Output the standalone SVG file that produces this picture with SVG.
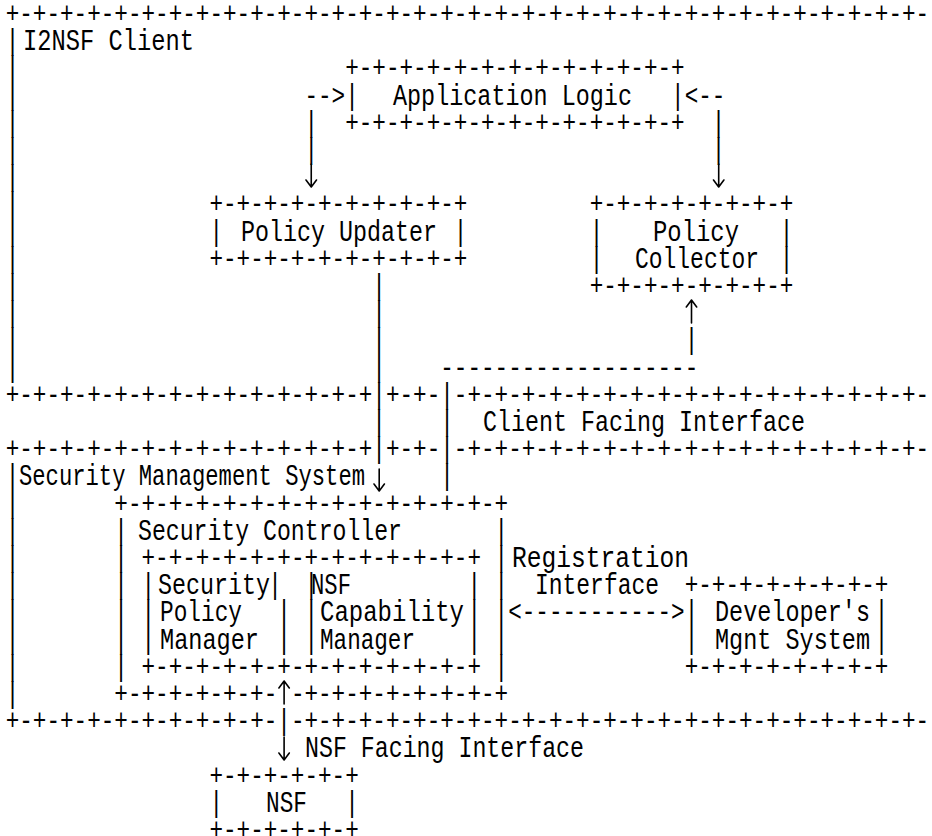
<svg xmlns="http://www.w3.org/2000/svg" width="932" height="836" viewBox="0 0 932 836">
<style>
  text { font-family: "Liberation Mono", "DejaVu Sans Mono", monospace; font-size: 29px; fill: #000; }
  .arrow { fill: none; stroke: #000; stroke-width: 1.6; stroke-linecap: round; stroke-linejoin: round; }
</style>
<rect width="932" height="836" fill="#fff"/>

<!-- I2NSF Client frame (top border + left edge) -->
<g id="i2nsf-client">
  <text x="5.7" y="23" textLength="923.44" lengthAdjust="spacingAndGlyphs">+-+-+-+-+-+-+-+-+-+-+-+-+-+-+-+-+-+-+-+-+-+-+-+-+-+-+-+-+-+-+-+-+-+-</text>
  <text x="23" y="50.2" textLength="171" lengthAdjust="spacingAndGlyphs">I2NSF Client</text>
  <text x="5.7" y="50.2" textLength="13.58" lengthAdjust="spacingAndGlyphs">|</text>
  <text x="5.7" y="77.4" textLength="13.58" lengthAdjust="spacingAndGlyphs">|</text>
  <text x="5.7" y="104.6" textLength="13.58" lengthAdjust="spacingAndGlyphs">|</text>
  <text x="5.7" y="131.8" textLength="13.58" lengthAdjust="spacingAndGlyphs">|</text>
  <text x="5.7" y="159" textLength="13.58" lengthAdjust="spacingAndGlyphs">|</text>
  <text x="5.7" y="186.2" textLength="13.58" lengthAdjust="spacingAndGlyphs">|</text>
  <text x="5.7" y="213.4" textLength="13.58" lengthAdjust="spacingAndGlyphs">|</text>
  <text x="5.7" y="240.6" textLength="13.58" lengthAdjust="spacingAndGlyphs">|</text>
  <text x="5.7" y="267.8" textLength="13.58" lengthAdjust="spacingAndGlyphs">|</text>
  <text x="5.7" y="295" textLength="13.58" lengthAdjust="spacingAndGlyphs">|</text>
  <text x="5.7" y="322.2" textLength="13.58" lengthAdjust="spacingAndGlyphs">|</text>
  <text x="5.7" y="349.4" textLength="13.58" lengthAdjust="spacingAndGlyphs">|</text>
  <text x="5.7" y="376.6" textLength="13.58" lengthAdjust="spacingAndGlyphs">|</text>
</g>

<!-- Application Logic -->
<g id="application-logic">
  <text x="345.2" y="77.4" textLength="339.5" lengthAdjust="spacingAndGlyphs">+-+-+-+-+-+-+-+-+-+-+-+-+</text>
  <text x="345.2" y="104.6" textLength="13.58" lengthAdjust="spacingAndGlyphs">|</text>
  <text x="393" y="104.6" textLength="239" lengthAdjust="spacingAndGlyphs">Application Logic</text>
  <text x="671.12" y="104.6" textLength="13.58" lengthAdjust="spacingAndGlyphs">|</text>
  <text x="345.2" y="131.8" textLength="339.5" lengthAdjust="spacingAndGlyphs">+-+-+-+-+-+-+-+-+-+-+-+-+</text>
</g>

<!-- Policy Updater -->
<g id="policy-updater">
  <text x="209.4" y="213.4" textLength="258.02" lengthAdjust="spacingAndGlyphs">+-+-+-+-+-+-+-+-+-+</text>
  <text x="209.4" y="240.6" textLength="13.58" lengthAdjust="spacingAndGlyphs">|</text>
  <text x="241" y="240.6" textLength="196" lengthAdjust="spacingAndGlyphs">Policy Updater</text>
  <text x="453.84" y="240.6" textLength="13.58" lengthAdjust="spacingAndGlyphs">|</text>
  <text x="209.4" y="267.8" textLength="258.02" lengthAdjust="spacingAndGlyphs">+-+-+-+-+-+-+-+-+-+</text>
</g>

<!-- Policy Collector -->
<g id="policy-collector">
  <text x="589.64" y="213.4" textLength="203.7" lengthAdjust="spacingAndGlyphs">+-+-+-+-+-+-+-+</text>
  <text x="589.64" y="240.6" textLength="13.58" lengthAdjust="spacingAndGlyphs">|</text>
  <text x="653" y="240.6" textLength="86" lengthAdjust="spacingAndGlyphs">Policy</text>
  <text x="779.76" y="240.6" textLength="13.58" lengthAdjust="spacingAndGlyphs">|</text>
  <text x="589.64" y="267.8" textLength="13.58" lengthAdjust="spacingAndGlyphs">|</text>
  <text x="635" y="267.8" textLength="124" lengthAdjust="spacingAndGlyphs">Collector</text>
  <text x="779.76" y="267.8" textLength="13.58" lengthAdjust="spacingAndGlyphs">|</text>
  <text x="589.64" y="295" textLength="203.7" lengthAdjust="spacingAndGlyphs">+-+-+-+-+-+-+-+</text>
</g>

<!-- Client Facing Interface band -->
<g id="client-facing-interface">
  <text x="5.7" y="403.8" textLength="366.66" lengthAdjust="spacingAndGlyphs">+-+-+-+-+-+-+-+-+-+-+-+-+-+</text>
  <text x="385.94" y="403.8" textLength="54.32" lengthAdjust="spacingAndGlyphs">+-+-</text>
  <text x="453.84" y="403.8" textLength="475.3" lengthAdjust="spacingAndGlyphs">-+-+-+-+-+-+-+-+-+-+-+-+-+-+-+-+-+-</text>
  <text x="483" y="431" textLength="322" lengthAdjust="spacingAndGlyphs">Client Facing Interface</text>
  <text x="5.7" y="458.2" textLength="366.66" lengthAdjust="spacingAndGlyphs">+-+-+-+-+-+-+-+-+-+-+-+-+-+</text>
  <text x="385.94" y="458.2" textLength="54.32" lengthAdjust="spacingAndGlyphs">+-+-</text>
  <text x="453.84" y="458.2" textLength="475.3" lengthAdjust="spacingAndGlyphs">-+-+-+-+-+-+-+-+-+-+-+-+-+-+-+-+-+-</text>
</g>

<!-- Security Management System frame -->
<g id="security-management-system">
  <text x="19" y="485.4" textLength="346" lengthAdjust="spacingAndGlyphs">Security Management System</text>
  <text x="5.7" y="485.4" textLength="13.58" lengthAdjust="spacingAndGlyphs">|</text>
  <text x="5.7" y="512.6" textLength="13.58" lengthAdjust="spacingAndGlyphs">|</text>
  <text x="5.7" y="539.8" textLength="13.58" lengthAdjust="spacingAndGlyphs">|</text>
  <text x="5.7" y="567" textLength="13.58" lengthAdjust="spacingAndGlyphs">|</text>
  <text x="5.7" y="594.2" textLength="13.58" lengthAdjust="spacingAndGlyphs">|</text>
  <text x="5.7" y="621.4" textLength="13.58" lengthAdjust="spacingAndGlyphs">|</text>
  <text x="5.7" y="648.6" textLength="13.58" lengthAdjust="spacingAndGlyphs">|</text>
  <text x="5.7" y="675.8" textLength="13.58" lengthAdjust="spacingAndGlyphs">|</text>
  <text x="5.7" y="703" textLength="13.58" lengthAdjust="spacingAndGlyphs">|</text>
  <text x="5.7" y="730.2" textLength="271.6" lengthAdjust="spacingAndGlyphs">+-+-+-+-+-+-+-+-+-+-</text>
  <text x="290.88" y="730.2" textLength="638.26" lengthAdjust="spacingAndGlyphs">-+-+-+-+-+-+-+-+-+-+-+-+-+-+-+-+-+-+-+-+-+-+-+-</text>
</g>

<!-- Security Controller -->
<g id="security-controller">
  <text x="114.34" y="512.6" textLength="393.82" lengthAdjust="spacingAndGlyphs">+-+-+-+-+-+-+-+-+-+-+-+-+-+-+</text>
  <text x="138" y="539.8" textLength="264" lengthAdjust="spacingAndGlyphs">Security Controller</text>
  <text x="114.34" y="539.8" textLength="13.58" lengthAdjust="spacingAndGlyphs">|</text>
  <text x="114.34" y="567" textLength="13.58" lengthAdjust="spacingAndGlyphs">|</text>
  <text x="114.34" y="594.2" textLength="13.58" lengthAdjust="spacingAndGlyphs">|</text>
  <text x="114.34" y="621.4" textLength="13.58" lengthAdjust="spacingAndGlyphs">|</text>
  <text x="114.34" y="648.6" textLength="13.58" lengthAdjust="spacingAndGlyphs">|</text>
  <text x="114.34" y="675.8" textLength="13.58" lengthAdjust="spacingAndGlyphs">|</text>
  <text x="494.58" y="539.8" textLength="13.58" lengthAdjust="spacingAndGlyphs">|</text>
  <text x="494.58" y="567" textLength="13.58" lengthAdjust="spacingAndGlyphs">|</text>
  <text x="494.58" y="594.2" textLength="13.58" lengthAdjust="spacingAndGlyphs">|</text>
  <text x="494.58" y="621.4" textLength="13.58" lengthAdjust="spacingAndGlyphs">|</text>
  <text x="494.58" y="648.6" textLength="13.58" lengthAdjust="spacingAndGlyphs">|</text>
  <text x="494.58" y="675.8" textLength="13.58" lengthAdjust="spacingAndGlyphs">|</text>
  <text x="114.34" y="703" textLength="162.96" lengthAdjust="spacingAndGlyphs">+-+-+-+-+-+-</text>
  <text x="290.88" y="703" textLength="217.28" lengthAdjust="spacingAndGlyphs">-+-+-+-+-+-+-+-+</text>
</g>

<!-- Security Policy Manager (left half of the inner box) -->
<g id="security-policy-manager">
  <text x="141.5" y="567" textLength="149.38" lengthAdjust="spacingAndGlyphs">+-+-+-+-+-+</text>
  <text x="141.5" y="594.2" textLength="13.58" lengthAdjust="spacingAndGlyphs">|</text>
  <text x="141.5" y="621.4" textLength="13.58" lengthAdjust="spacingAndGlyphs">|</text>
  <text x="141.5" y="648.6" textLength="13.58" lengthAdjust="spacingAndGlyphs">|</text>
  <text x="158" y="594.2" textLength="112" lengthAdjust="spacingAndGlyphs">Security</text>
  <text x="160" y="621.4" textLength="82" lengthAdjust="spacingAndGlyphs">Policy</text>
  <text x="160" y="648.6" textLength="99" lengthAdjust="spacingAndGlyphs">Manager</text>
  <text x="268.2" y="594.2" textLength="13.58" lengthAdjust="spacingAndGlyphs">|</text>
  <text x="277.3" y="621.4" textLength="13.58" lengthAdjust="spacingAndGlyphs">|</text>
  <text x="277.3" y="648.6" textLength="13.58" lengthAdjust="spacingAndGlyphs">|</text>
  <text x="141.5" y="675.8" textLength="149.38" lengthAdjust="spacingAndGlyphs">+-+-+-+-+-+</text>
</g>

<!-- NSF Capability Manager (right half of the inner box) -->
<g id="nsf-capability-manager">
  <text x="290.88" y="567" textLength="190.12" lengthAdjust="spacingAndGlyphs">-+-+-+-+-+-+-+</text>
  <text x="304.46" y="594.2" textLength="13.58" lengthAdjust="spacingAndGlyphs">|</text>
  <text x="304.46" y="621.4" textLength="13.58" lengthAdjust="spacingAndGlyphs">|</text>
  <text x="304.46" y="648.6" textLength="13.58" lengthAdjust="spacingAndGlyphs">|</text>
  <text x="311" y="594.2" textLength="40" lengthAdjust="spacingAndGlyphs">NSF</text>
  <text x="320" y="621.4" textLength="144" lengthAdjust="spacingAndGlyphs">Capability</text>
  <text x="320" y="648.6" textLength="95" lengthAdjust="spacingAndGlyphs">Manager</text>
  <text x="467.42" y="594.2" textLength="13.58" lengthAdjust="spacingAndGlyphs">|</text>
  <text x="467.42" y="621.4" textLength="13.58" lengthAdjust="spacingAndGlyphs">|</text>
  <text x="467.42" y="648.6" textLength="13.58" lengthAdjust="spacingAndGlyphs">|</text>
  <text x="290.88" y="675.8" textLength="190.12" lengthAdjust="spacingAndGlyphs">-+-+-+-+-+-+-+</text>
</g>

<!-- Developer's Mgnt System -->
<g id="developers-mgnt-system">
  <text x="684.7" y="594.2" textLength="203.7" lengthAdjust="spacingAndGlyphs">+-+-+-+-+-+-+-+</text>
  <text x="684.7" y="621.4" textLength="13.58" lengthAdjust="spacingAndGlyphs">|</text>
  <text x="715" y="621.4" textLength="155" lengthAdjust="spacingAndGlyphs">Developer's</text>
  <text x="874.82" y="621.4" textLength="13.58" lengthAdjust="spacingAndGlyphs">|</text>
  <text x="684.7" y="648.6" textLength="13.58" lengthAdjust="spacingAndGlyphs">|</text>
  <text x="715" y="648.6" textLength="155" lengthAdjust="spacingAndGlyphs">Mgnt System</text>
  <text x="874.82" y="648.6" textLength="13.58" lengthAdjust="spacingAndGlyphs">|</text>
  <text x="684.7" y="675.8" textLength="203.7" lengthAdjust="spacingAndGlyphs">+-+-+-+-+-+-+-+</text>
</g>

<!-- NSF -->
<g id="nsf">
  <text x="209.4" y="784.6" textLength="149.38" lengthAdjust="spacingAndGlyphs">+-+-+-+-+-+</text>
  <text x="209.4" y="811.8" textLength="13.58" lengthAdjust="spacingAndGlyphs">|</text>
  <text x="266" y="811.8" textLength="41" lengthAdjust="spacingAndGlyphs">NSF</text>
  <text x="345.2" y="811.8" textLength="13.58" lengthAdjust="spacingAndGlyphs">|</text>
  <text x="209.4" y="839" textLength="149.38" lengthAdjust="spacingAndGlyphs">+-+-+-+-+-+</text>
</g>

<!-- Connectors and interface labels -->
<g id="connectors">
  <!-- Application Logic to Policy Updater / Policy Collector -->
  <text x="304.46" y="104.6" textLength="40.74" lengthAdjust="spacingAndGlyphs">--&gt;</text>
  <text x="304.46" y="131.8" textLength="13.58" lengthAdjust="spacingAndGlyphs">|</text>
  <text x="304.46" y="159" textLength="13.58" lengthAdjust="spacingAndGlyphs">|</text>
  <path class="arrow" d="M311.25 164 V187 M306 180 L311.25 187 L316.5 180"/>
  <text x="684.7" y="104.6" textLength="40.74" lengthAdjust="spacingAndGlyphs">&lt;--</text>
  <text x="711.86" y="131.8" textLength="13.58" lengthAdjust="spacingAndGlyphs">|</text>
  <text x="711.86" y="159" textLength="13.58" lengthAdjust="spacingAndGlyphs">|</text>
  <path class="arrow" d="M718.7 164 V187 M713.5 180 L718.7 187 L723.9 180"/>

  <!-- Policy Updater down to the Security Management System -->
  <text x="372.36" y="295" textLength="13.58" lengthAdjust="spacingAndGlyphs">|</text>
  <text x="372.36" y="322.2" textLength="13.58" lengthAdjust="spacingAndGlyphs">|</text>
  <text x="372.36" y="349.4" textLength="13.58" lengthAdjust="spacingAndGlyphs">|</text>
  <text x="372.36" y="376.6" textLength="13.58" lengthAdjust="spacingAndGlyphs">|</text>
  <text x="372.36" y="403.8" textLength="13.58" lengthAdjust="spacingAndGlyphs">|</text>
  <text x="372.36" y="431" textLength="13.58" lengthAdjust="spacingAndGlyphs">|</text>
  <text x="372.36" y="458.2" textLength="13.58" lengthAdjust="spacingAndGlyphs">|</text>
  <path class="arrow" d="M379.2 469 V491 M374 484 L379.2 491 L384.4 484"/>

  <!-- Security Management System up to Policy Collector -->
  <path class="arrow" d="M691.5 323 V300 M686.3 307 L691.5 300 L696.7 307"/>
  <text x="684.7" y="349.4" textLength="13.58" lengthAdjust="spacingAndGlyphs">|</text>
  <text x="440.26" y="376.6" textLength="258.02" lengthAdjust="spacingAndGlyphs">-------------------</text>
  <text x="440.26" y="403.8" textLength="13.58" lengthAdjust="spacingAndGlyphs">|</text>
  <text x="440.26" y="431" textLength="13.58" lengthAdjust="spacingAndGlyphs">|</text>
  <text x="440.26" y="458.2" textLength="13.58" lengthAdjust="spacingAndGlyphs">|</text>
  <text x="440.26" y="485.4" textLength="13.58" lengthAdjust="spacingAndGlyphs">|</text>

  <!-- Registration Interface -->
  <text x="512" y="567" textLength="177" lengthAdjust="spacingAndGlyphs">Registration</text>
  <text x="535" y="594.2" textLength="124" lengthAdjust="spacingAndGlyphs">Interface</text>
  <text x="508.16" y="621.4" textLength="176.54" lengthAdjust="spacingAndGlyphs">&lt;-----------&gt;</text>

  <!-- NSF Facing Interface -->
  <path class="arrow" d="M284.1 704 V681 M278.9 688 L284.1 681 L289.3 688"/>
  <text x="277.3" y="730.2" textLength="13.58" lengthAdjust="spacingAndGlyphs">|</text>
  <path class="arrow" d="M284.1 737 V760 M278.9 753 L284.1 760 L289.3 753"/>
  <text x="305" y="757.4" textLength="279" lengthAdjust="spacingAndGlyphs">NSF Facing Interface</text>
</g>
</svg>
